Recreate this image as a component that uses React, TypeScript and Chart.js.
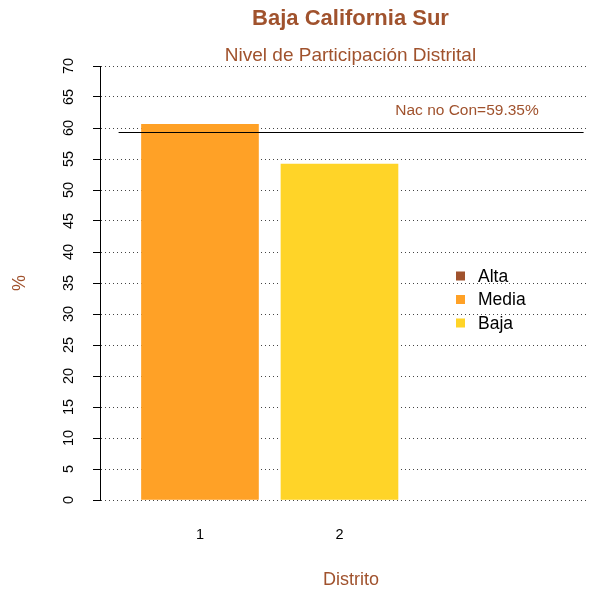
import React, { useEffect, useRef } from "react";
import { Chart, registerables } from "chart.js";

Chart.register(...registerables);

const categories = ["1", "2"];
const barPositions = [0.7, 1.9];
const values = [60.6, 54.2];
const barColors = ["#FFA126", "#FFD428"];
const legendLabels = ["Alta", "Media", "Baja"];
const legendColors = ["#A0522D", "#FFA126", "#FFD428"];
const refValue = 59.35;
const refLabel = "Nac no Con=59.35%";
const refRange = [0, 4];
const yTicks = [0, 5, 10, 15, 20, 25, 30, 35, 40, 45, 50, 55, 60, 65, 70];
const title = "Baja California Sur";
const subtitle = "Nivel de Participación Distrital";
const xTitle = "Distrito";
const yTitle = "%";

const BROWN = "#A0522D";
const FONT = "'Liberation Sans', Arial, sans-serif";

const decorPlugin = {
  id: "decor",
  afterDatasetsDraw(chart: any) {
    const { ctx, scales } = chart;
    const x = scales.x;
    const y = scales.y;
    ctx.save();
    ctx.strokeStyle = "#000";
    ctx.lineWidth = 1;
    const ly = Math.round(y.getPixelForValue(refValue)) + 0.5;
    ctx.beginPath();
    ctx.moveTo(x.getPixelForValue(refRange[0]), ly);
    ctx.lineTo(x.getPixelForValue(refRange[1]), ly);
    ctx.stroke();
    // axis line (solid)
    const ax = Math.round(chart.chartArea.left) + 0.5;
    ctx.beginPath();
    ctx.moveTo(ax, y.getPixelForValue(70));
    ctx.lineTo(ax, y.getPixelForValue(0));
    ctx.stroke();
    ctx.restore();
  },
  afterDraw(chart: any) {
    const { ctx, scales, chartArea } = chart;
    const x = scales.x;
    const y = scales.y;
    const cx = (chartArea.left + 601) / 2;
    ctx.save();
    ctx.textAlign = "center";
    ctx.textBaseline = "middle";
    ctx.fillStyle = BROWN;
    ctx.font = `bold 22px ${FONT}`;
    ctx.fillText(title, cx, 19);
    ctx.font = `19px ${FONT}`;
    ctx.fillText(subtitle, cx, 56);
    ctx.font = `15.5px ${FONT}`;
    ctx.fillText(refLabel, 467, 111);
    ctx.fillStyle = "#000";
    ctx.font = `14.5px ${FONT}`;
    yTicks.forEach((v) => {
      const py = y.getPixelForValue(v);
      ctx.save();
      ctx.translate(69, py);
      ctx.rotate(-Math.PI / 2);
      ctx.fillText(String(v), 0, 0);
      ctx.restore();
    });
    categories.forEach((c, i) => {
      ctx.fillText(c, x.getPixelForValue(barPositions[i]), 535);
    });
    ctx.fillStyle = BROWN;
    ctx.font = `18px ${FONT}`;
    ctx.fillText(xTitle, 351, 580);
    ctx.save();
    ctx.translate(20, 283);
    ctx.rotate(-Math.PI / 2);
    ctx.fillText(yTitle, 0, 0);
    ctx.restore();
    ctx.textAlign = "left";
    ctx.font = `17.5px ${FONT}`;
    legendLabels.forEach((l, i) => {
      const py = 276 + i * 23.5;
      ctx.fillStyle = legendColors[i];
      ctx.fillRect(456, py - 4.5, 9, 9);
      ctx.fillStyle = "#000";
      ctx.fillText(l, 478, py + 1);
    });
    ctx.restore();
  },
};

export default function App() {
  const ref = useRef<HTMLCanvasElement | null>(null);
  useEffect(() => {
    if (!ref.current) return;
    const chart = new Chart(ref.current, {
      type: "bar",
      data: {
        datasets: [
          {
            data: barPositions.map((p, i) => ({ x: p, y: values[i] })),
            backgroundColor: barColors,
            borderWidth: 0,
            barThickness: 117,
          },
        ],
      },
      options: {
        animation: false,
        responsive: false,
        maintainAspectRatio: false,
        layout: { padding: { top: 66, left: 0, right: 0, bottom: 90 } },
        plugins: {
          legend: { display: false },
          tooltip: { enabled: false },
          title: { display: false },
        },
        scales: {
          x: {
            type: "linear",
            display: false,
            offset: false,
            min: -0.16,
            max: -0.16 + 489 / 116.25,
          },
          y: {
            type: "linear",
            min: 0,
            max: 70,
            afterFit: (s: any) => {
              s.width = 100;
            },
            ticks: { display: false, stepSize: 5 },
            grid: {
              color: "#444",
              lineWidth: 1,
              drawTicks: true,
              tickLength: 7,
              tickColor: "#000",
              tickBorderDash: [],
            } as any,
            border: { display: true, color: "#000", width: 1, dash: [1, 3] } as any,
          },
        },
      },
      plugins: [decorPlugin],
    } as any);
    return () => chart.destroy();
  }, []);
  return (
    <div style={{ position: "fixed", left: 0, top: 0, width: 589, height: 590, background: "#fff" }}>
      <canvas ref={ref} width={589} height={590} style={{ width: 589, height: 590 }} />
    </div>
  );
}
